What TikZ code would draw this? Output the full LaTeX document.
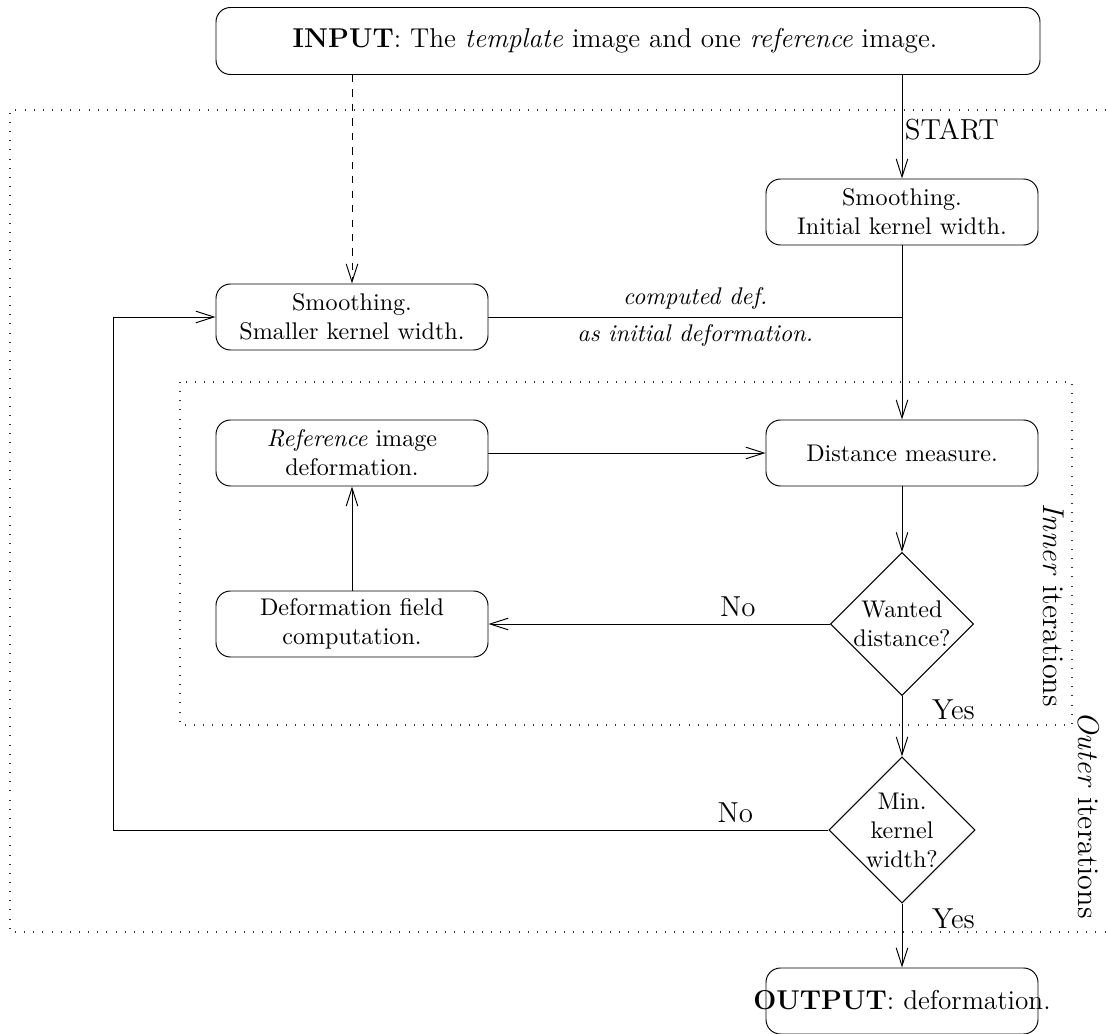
\documentclass[tikz,border=0pt]{standalone}
\usetikzlibrary{shapes.geometric,arrows.meta}
\newdimen\U \U=0.415pt
\begin{document}
\begin{tikzpicture}[x=0.415pt,y=-0.415pt,
  box/.style={draw,rounded corners=6pt,minimum width=272\U,minimum height=66\U,align=center,inner sep=0pt,font=\normalsize},
  dec/.style={draw,diamond,aspect=1,minimum size=137\U,inner sep=0pt,align=center,font=\normalsize},
  lbl/.style={font=\fontsize{12}{14.5}\selectfont},
  big/.style={font=\fontsize{11.3}{13.6}\selectfont},
  arr/.style={-{Straight Barb[length=7.5pt,width=4.8pt]}},
  dots/.style={dash pattern=on 0.4pt off 3.4pt,line width=0.45pt,black!80},
  line width=0.4pt]
\useasboundingbox (0,0) rectangle (1106,1034);
% frames
\draw[dots] (1106,110) -- (10,110) -- (10,932) -- (1106,932);
\draw[dots] (180,382) rectangle (1072,725);
% nodes
\node[box,minimum width=824\U,minimum height=67\U] (input) at (628,41) {};
\node[big] (intext) at (615,41) {\textbf{INPUT}: The \textit{template} image and one \textit{reference} image.};
\node[box] (sinit) at (902,212) {Smoothing.\\Initial kernel width.};
\node[box] (ssmall) at (352,317) {Smoothing.\\Smaller kernel width.};
\node[box] (refdef) at (352,453) {\textit{Reference} image\\deformation.};
\node[box] (dist) at (902,453) {Distance measure.};
\node[box] (field) at (352,624) {Deformation field\\computation.};
\node[dec] (wanted) at (902,624) {Wanted\\distance?};
\node[dec] (minw) at (902,830) {Min.\\kernel\\width?};
\node[box] (outbox) at (902,1001) {};
\node[big] (outtxt) at (902,1000) {\textbf{OUTPUT}: deformation.};
\coordinate (join) at (902,317);
\coordinate (back) at (113,830);
% connectors
\draw[arr,dashed] (input.south -| ssmall.north) -- (ssmall.north);
\draw[arr] (input.south -| sinit.north) -- node[lbl,pos=0.53,anchor=west,inner sep=1pt] {START} (sinit.north);
\draw (ssmall.east) -- node[above,font=\itshape,inner sep=3pt] {computed def.} node[below,font=\itshape,inner sep=3pt] {as initial deformation.} (join);
\draw[arr] (sinit.south) -- (dist.north);
\draw[arr] (refdef.east) -- (dist.west);
\draw[arr] (dist.south) -- (wanted.north);
\draw[arr] (wanted.west) -- node[lbl,above,pos=0.27,inner sep=3pt] {No} (field.east);
\draw[arr] (field.north) -- (refdef.south);
\draw[arr] (wanted.south) -- node[lbl,anchor=west,pos=0.22,inner sep=0pt,xshift=12.3pt] {Yes} (minw.north);
\draw[arr] (minw.west) -- node[lbl,above,pos=0.13,inner sep=3pt] {No} (back) |- (ssmall.west);
\draw[arr] (minw.south) -- node[lbl,anchor=west,pos=0.23,inner sep=0pt,xshift=12.3pt] {Yes} (outbox.north);
% frame labels
\node[lbl,rotate=-90,font=\fontsize{12.5}{15}\selectfont] (innerlbl) at (1054,605) {\textit{Inner} iterations};
\node[lbl,rotate=-90,font=\fontsize{12.5}{15}\selectfont] (outerlbl) at (1089,815) {\textit{Outer} iterations};
\end{tikzpicture}
\end{document}
